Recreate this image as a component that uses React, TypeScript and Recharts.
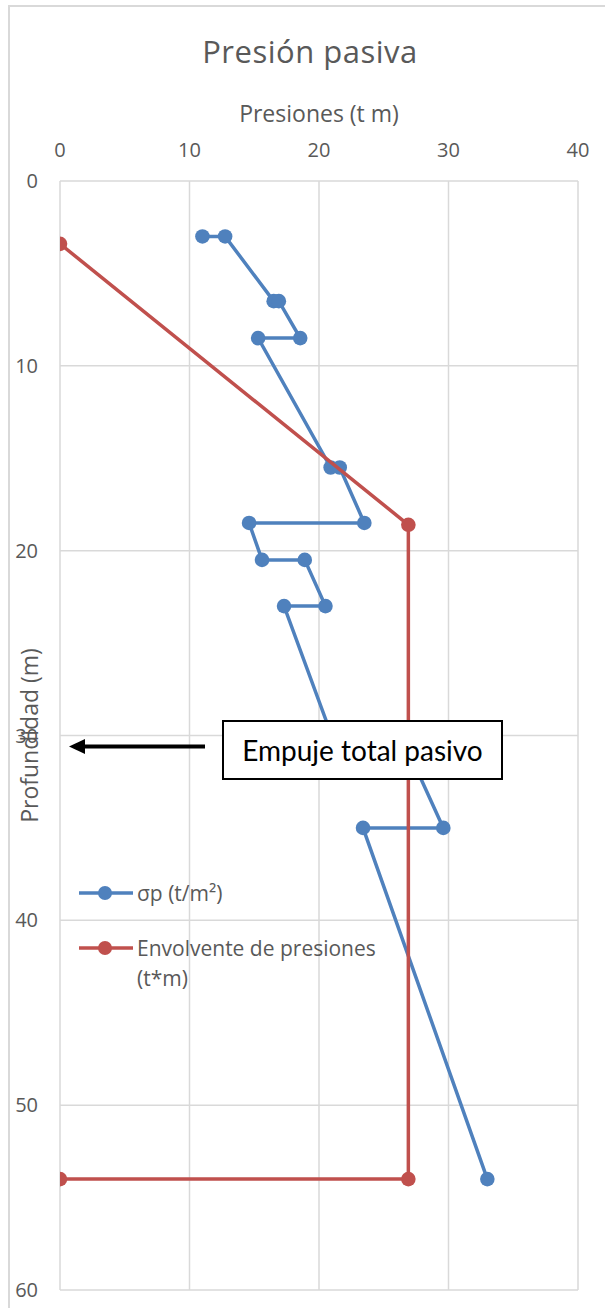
import React from 'react';
import { ScatterChart, Scatter, XAxis, YAxis, CartesianGrid, Legend } from 'recharts';

// σp series (pressure t/m², depth m), in drawing order
const sigmaPressure = [11.0, 12.75, 16.5, 16.9, 18.55, 15.3, 20.9, 21.6, 23.5, 14.6, 15.6, 18.9, 20.5, 17.3, 21.5, 27.0, 29.6, 23.4, 33.0];
const sigmaDepth = [3, 3, 6.5, 6.5, 8.5, 8.5, 15.5, 15.5, 18.5, 18.5, 20.5, 20.5, 23, 23, 31, 31, 35, 35, 54];

// Envelope series
const envPressure = [0, 26.9, 26.9, 0];
const envDepth = [3.4, 18.6, 54, 54];

const xTicks = [0, 10, 20, 30, 40];
const yTicks = [0, 10, 20, 30, 40, 50, 60];

const seriesNames = ['σp (t/m²)', 'Envolvente de presiones (t*m)'];
const titleText = 'Presión pasiva';
const xTitle = 'Presiones (t m)';
const yTitle = 'Profundidad (m)';
const annotationText = 'Empuje total pasivo';

const BLUE = '#4f81bd';
const RED = '#c0504d';
const TEXT = '#595959';
const GRID = '#d9d9d9';
const FONT = '"Open Sans", "Noto Sans", sans-serif';

const sigmaData = sigmaPressure.map((p, i) => ({ p, d: sigmaDepth[i] }));
const envData = envPressure.map((p, i) => ({ p, d: envDepth[i] }));

const makeDot = (color: string) => (props: any) => (
  <circle cx={props.cx} cy={props.cy} r={7.3} fill={color} />
);

const LegendContent = () => {
  const items = [
    { color: BLUE, lines: [seriesNames[0]] },
    { color: RED, lines: ['Envolvente de presiones', '(t*m)'] },
  ];
  return (
    <div style={{ fontFamily: FONT, fontSize: 21, color: TEXT }}>
      {items.map((it, idx) => (
        <div key={idx} style={{ display: 'flex', alignItems: 'flex-start', marginBottom: idx === 0 ? 25 : 0 }}>
          <svg width={58} height={30} style={{ flex: 'none' }}>
            <line x1={0} y1={15} x2={54} y2={15} stroke={it.color} strokeWidth={3.5} />
            <circle cx={26} cy={15} r={7} fill={it.color} />
          </svg>
          <div style={{ lineHeight: '30px' }}>
            {it.lines.map((l, j) => (
              <div key={j}>{l}</div>
            ))}
          </div>
        </div>
      ))}
    </div>
  );
};

export default function App() {
  return (
    <div style={{ position: 'absolute', left: 0, top: 0, width: 605, height: 1308, overflow: 'hidden', background: '#fff', fontFamily: FONT }}>
      <div style={{ position: 'absolute', left: 8, top: 5, width: 640, height: 1400, border: `2px solid ${GRID}`, boxSizing: 'border-box' }} />
      <div style={{ position: 'absolute', left: 0, width: 620, textAlign: 'center', top: 30, fontSize: 31, color: TEXT, letterSpacing: 0.5, whiteSpace: 'nowrap' }}>
        {titleText}
      </div>
      <div style={{ position: 'absolute', left: 60, width: 518, top: 97, textAlign: 'center', fontSize: 23, color: TEXT, whiteSpace: 'nowrap' }}>
        {xTitle}
      </div>
      <div style={{ position: 'absolute', left: 0, top: 0 }}>
        <ScatterChart width={605} height={1308} margin={{ top: 0, right: 27, bottom: 18, left: 0 }}>
          <CartesianGrid stroke={GRID} strokeWidth={1.5} horizontal vertical />
          <XAxis
            type="number"
            dataKey="p"
            orientation="top"
            domain={[0, 40]}
            ticks={xTicks}
            height={181}
            axisLine={false}
            tickLine={false}
            tickSize={0}
            tickMargin={24}
            tick={{ fill: TEXT, fontSize: 20, fontFamily: FONT }}
            allowDataOverflow
          />
          <YAxis
            type="number"
            dataKey="d"
            domain={[0, 60]}
            reversed
            ticks={yTicks}
            width={60}
            axisLine={false}
            tickLine={false}
            tickSize={0}
            tickMargin={22}
            tick={{ fill: TEXT, fontSize: 20, fontFamily: FONT }}
            label={{ value: yTitle, angle: -90, position: 'center', fill: TEXT, fontSize: 23, fontFamily: FONT }}
            allowDataOverflow
          />
          <Scatter
            name={seriesNames[0]}
            data={sigmaData}
            fill={BLUE}
            line={{ stroke: BLUE, strokeWidth: 3.5 }}
            lineType="joint"
            shape={makeDot(BLUE)}
            isAnimationActive={false}
          />
          <Scatter
            name={seriesNames[1]}
            data={envData}
            fill={RED}
            line={{ stroke: RED, strokeWidth: 3.5 }}
            lineType="joint"
            shape={makeDot(RED)}
            isAnimationActive={false}
          />
          <Legend
            layout="vertical"
            align="center"
            verticalAlign="middle"
            content={() => <LegendContent />}
            wrapperStyle={{ position: 'absolute', left: 79, top: 878, width: 360, height: 120 }}
          />
        </ScatterChart>
      </div>
      <svg style={{ position: 'absolute', left: 0, top: 0 }} width={605} height={1308} pointerEvents="none">
        <line x1={83} y1={746.5} x2={205} y2={746.5} stroke="#000" strokeWidth={4} />
        <polygon points="69,746.5 85,739 85,754" fill="#000" />
      </svg>
      <div
        style={{
          position: 'absolute',
          left: 222,
          top: 720,
          width: 281,
          height: 60,
          boxSizing: 'border-box',
          border: '2px solid #000',
          background: '#fff',
          display: 'flex',
          alignItems: 'center',
          justifyContent: 'center',
          fontFamily: 'Lato, "Open Sans", sans-serif',
          fontSize: 28,
          color: '#000',
          whiteSpace: 'nowrap',
        }}
      >
        {annotationText}
      </div>
    </div>
  );
}
